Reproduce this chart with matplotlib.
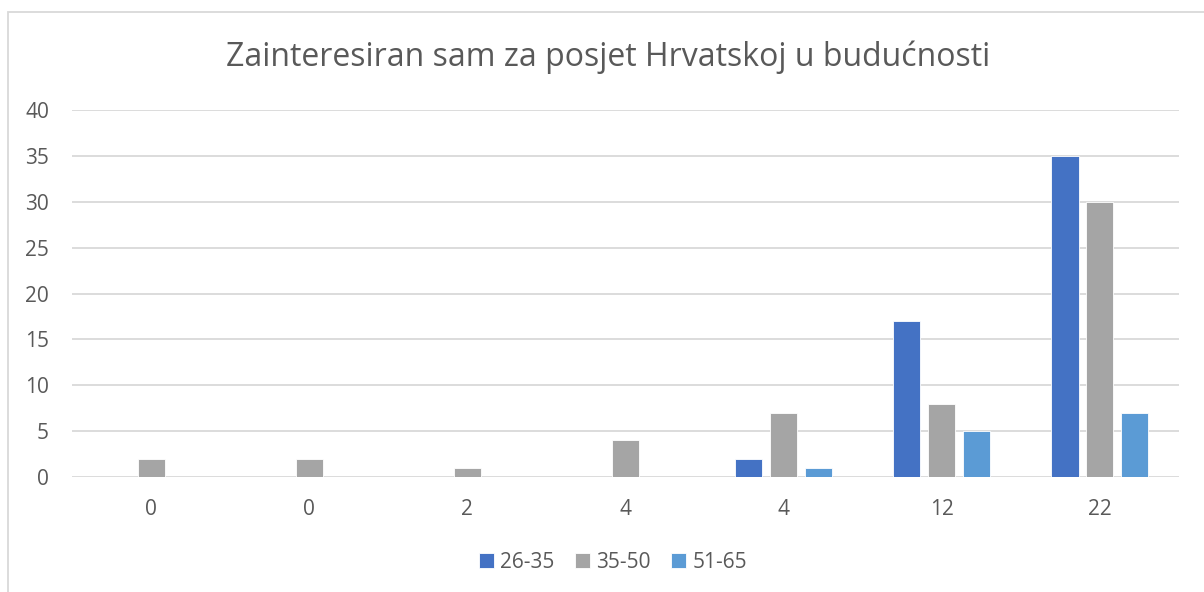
import matplotlib
matplotlib.use("Agg")
import matplotlib.pyplot as plt
import numpy as np
from matplotlib.patches import Rectangle

categories = ["0", "0", "2", "4", "4", "12", "22"]
series_names = ["26-35", "35-50", "51-65"]
age_26_35 = [0, 0, 0, 0, 2, 17, 35]
age_35_50 = [2, 2, 1, 4, 7, 8, 30]
age_51_65 = [0, 0, 0, 0, 1, 5, 7]
colors = ["#4472C4", "#A5A5A5", "#5B9BD5"]

plt.rcParams["font.family"] = ["Open Sans", "DejaVu Sans"]
text_color = "#595959"
grid_color = "#D9D9D9"

fig = plt.figure(figsize=(12.04, 5.92), dpi=100)
ax = fig.add_axes([72 / 1204, 1 - 477 / 592, (1179 - 72) / 1204, (477 - 110) / 592])

x = np.arange(len(categories))
width = 0.171
step = 0.221
for i, (vals, name, c) in enumerate(zip([age_26_35, age_35_50, age_51_65], series_names, colors)):
    ax.bar(x + (i - 1) * step, vals, width, color=c, label=name,
           edgecolor="white", linewidth=0.6, zorder=3)

ax.set_xlim(-0.5, len(categories) - 0.5)
ax.set_ylim(0, 40)
ax.set_yticks(range(0, 41, 5))
ax.set_xticks(x)
ax.set_xticklabels(categories)
ax.yaxis.grid(True, color=grid_color, linewidth=1.3, zorder=0)
ax.set_axisbelow(True)
for s in ax.spines.values():
    s.set_visible(False)
ax.tick_params(axis="both", length=0, labelsize=15, labelcolor=text_color)
ax.tick_params(axis="y", pad=16.5)
ax.tick_params(axis="x", pad=16)

fig.text(0.505, 1 - 57 / 592, "Zainteresiran sam za posjet Hrvatskoj u budućnosti",
         ha="center", va="center", fontsize=23, color=text_color)

leg = fig.legend(loc="center", bbox_to_anchor=(613 / 1204, 1 - 562 / 592), ncol=3,
                 frameon=False, fontsize=15, handlelength=0.7, handleheight=0.7,
                 handletextpad=0.3, columnspacing=1.0)
for t in leg.get_texts():
    t.set_color(text_color)

fig.patches.append(Rectangle((8 / 1204, -0.05), 1.1, 1 - 12 / 592 + 0.05,
                             transform=fig.transFigure, fill=False,
                             edgecolor=grid_color, linewidth=1.3))

fig.savefig("out.png", dpi=100, facecolor="white")
